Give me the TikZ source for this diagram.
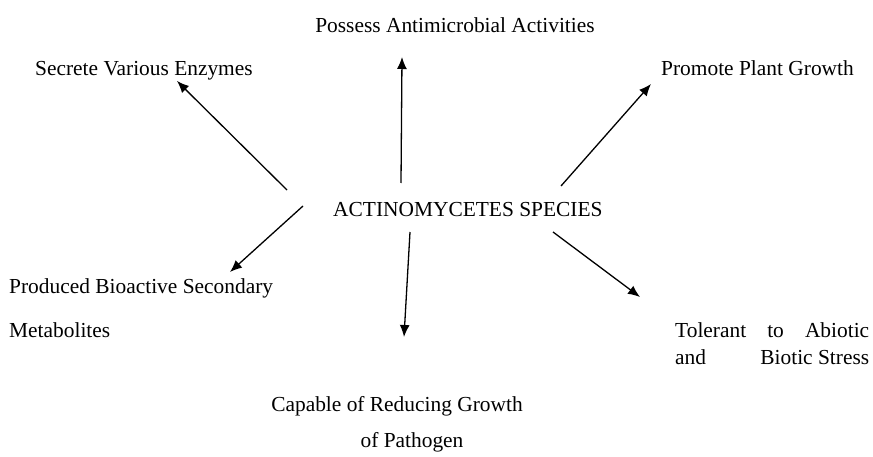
\documentclass[tikz,border=0pt]{standalone}
\usepackage{fontspec}
\setmainfont{Liberation Serif}
\usetikzlibrary{arrows.meta}
\begin{document}
\begin{tikzpicture}[x=1pt,y=1pt,
  lbl/.style={inner sep=0pt, font=\fontsize{21.4}{25}\selectfont},
  arr/.style={line width=1.3pt, -{Latex[length=12pt,width=10pt]}}]
\useasboundingbox (0,0) rectangle (873,456);
\node[lbl, anchor=mid] (anti) at (455,426) {Possess Antimicrobial Activities};
\node[lbl, anchor=mid west] (secr) at (35,383) {Secrete Various Enzymes};
\node[lbl, anchor=mid west] (prom) at (661,383) {Promote Plant Growth};
\node[lbl, anchor=mid west] (act) at (333,242) {ACTINOMYCETES SPECIES};
\node[lbl, anchor=mid west] (prod1) at (9,165) {Produced Bioactive Secondary};
\node[lbl, anchor=mid west] (prod2) at (9,121) {Metabolites};
\node[lbl, anchor=mid west] (tol1) at (675,121) {\makebox[194pt][s]{Tolerant\hfill to\hfill Abiotic}};
\node[lbl, anchor=mid west] (tol2) at (675,94) {\makebox[194pt][s]{and\hfill Biotic Stress}};
\node[lbl, anchor=mid] (cap1) at (397,47) {Capable of Reducing Growth};
\node[lbl, anchor=mid] (cap2) at (412,11) {of Pathogen};
% arrow end points
\coordinate (s1) at (287,266); \coordinate (e1) at (177,375);
\coordinate (s2) at (401,273); \coordinate (e2) at (402,399);
\coordinate (s3) at (561,270); \coordinate (e3) at (651,372);
\coordinate (s4) at (303,250); \coordinate (e4) at (230,184);
\coordinate (s5) at (410,224); \coordinate (e5) at (404,119);
\coordinate (s6) at (553,224); \coordinate (e6) at (640,159);
\draw[arr] (s1) -- (e1);
\draw[arr] (s2) -- (e2);
\draw[arr] (s3) -- (e3);
\draw[arr] (s4) -- (e4);
\draw[arr] (s5) -- (e5);
\draw[arr] (s6) -- (e6);
\end{tikzpicture}
\end{document}
